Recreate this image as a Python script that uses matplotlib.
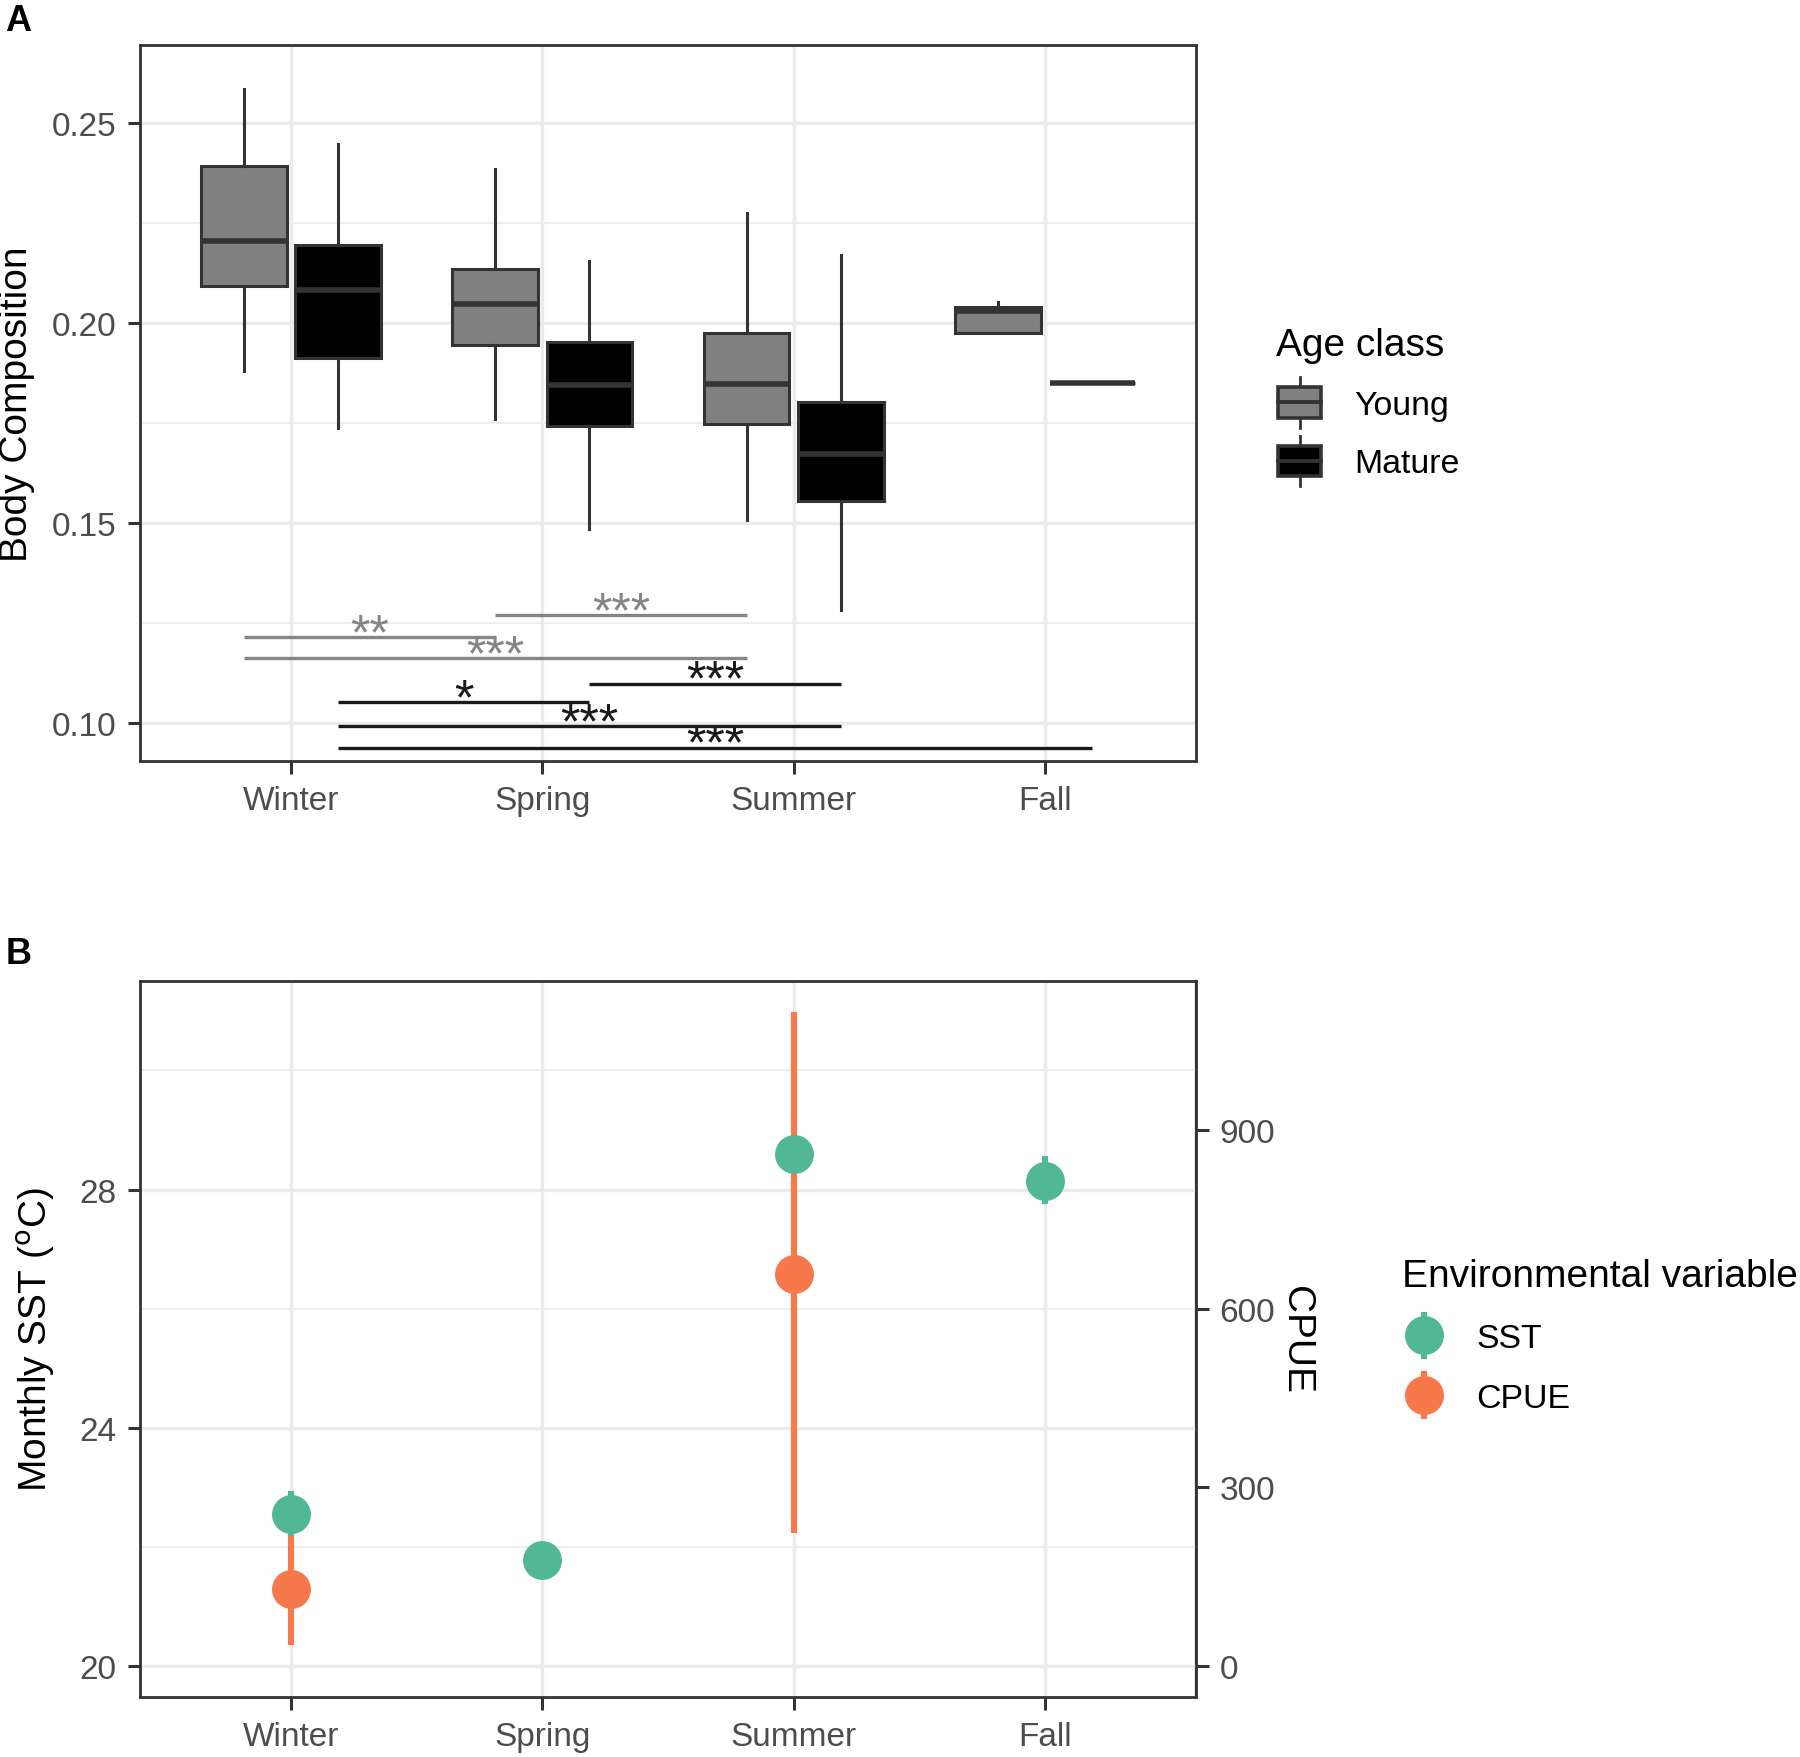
import matplotlib
matplotlib.use("Agg")
import numpy as np
import matplotlib.pyplot as plt
from matplotlib.patches import Rectangle, Patch
from matplotlib.lines import Line2D
from matplotlib.legend_handler import HandlerBase, HandlerErrorbar
from matplotlib.container import ErrorbarContainer
from matplotlib.ticker import MultipleLocator

plt.rcParams["font.family"] = ["Liberation Sans", "DejaVu Sans"]

# ---- panel A data: body composition boxplots ----
seasons = ["Winter", "Spring", "Summer", "Fall"]
age_classes = ["Young", "Mature"]

young_low = [0.1881, 0.1761, 0.1508, 0.1975]
young_q1 = [0.2093, 0.1944, 0.1749, 0.1975]
young_med = [0.2204, 0.2048, 0.1848, 0.2030]
young_q3 = [0.2393, 0.2136, 0.1975, 0.2039]
young_high = [0.2584, 0.2386, 0.2274, 0.2052]

mature_low = [0.1737, 0.1485, 0.1284, 0.1850]
mature_q1 = [0.1913, 0.1742, 0.1556, 0.1850]
mature_med = [0.2083, 0.1846, 0.1673, 0.1850]
mature_q3 = [0.2195, 0.1952, 0.1803, 0.1850]
mature_high = [0.2447, 0.2156, 0.2169, 0.1850]

# significance comparisons
sig_from = ["Winter", "Spring", "Winter", "Spring", "Winter", "Winter", "Winter"]
sig_to = ["Spring", "Summer", "Summer", "Summer", "Spring", "Summer", "Fall"]
sig_class = ["Young", "Young", "Young", "Mature", "Mature", "Mature", "Mature"]
sig_y = [0.1216, 0.1270, 0.1163, 0.1099, 0.1053, 0.0993, 0.0939]
sig_label = ["**", "***", "***", "***", "*", "***", "***"]

# ---- panel B data: environmental variables ----
sst_mean = [22.56, 21.78, 28.60, 28.15]
sst_lo = [22.18, 21.62, 28.35, 27.75]
sst_hi = [22.94, 21.94, 28.85, 28.56]

cpue_seasons = ["Winter", "Summer"]
cpue_mean = [130, 659]
cpue_lo = [36, 223]
cpue_hi = [220, 1098]

young_col = "#808080"
mature_col = "#000000"
edge_col = "#333333"
sst_col = "#52B794"
cpue_col = "#F7784B"
grid_col = "#EBEBEB"
tick_col = "#4D4D4D"

TICK_FS = 12
TITLE_FS = 14
LEG_TITLE_FS = 14
LEG_FS = 12.2


class BoxHandler(HandlerBase):
    def create_artists(self, legend, orig_handle, xdescent, ydescent,
                       width, height, fontsize, trans):
        face = orig_handle.get_facecolor()
        x0 = -xdescent + 0.05 * width
        bw = 0.9 * width
        y0 = -ydescent + 0.05 * height
        bh = 0.9 * height
        xc = x0 + bw / 2
        rect = Rectangle((x0, y0), bw, bh, facecolor=face, edgecolor=edge_col,
                         lw=1.3, transform=trans)
        med = Line2D([x0, x0 + bw], [y0 + bh / 2] * 2, color=edge_col, lw=1.4, transform=trans)
        w1 = Line2D([xc, xc], [y0 - 0.3 * height, y0], color=edge_col, lw=1.0, transform=trans)
        w2 = Line2D([xc, xc], [y0 + bh, y0 + bh + 0.3 * height], color=edge_col, lw=1.0, transform=trans)
        return [w1, w2, rect, med]


def style_axes(ax):
    for s in ax.spines.values():
        s.set_color(edge_col)
        s.set_linewidth(1.0)
    ax.tick_params(axis="both", which="major", length=4.5, width=1.1, color=edge_col,
                   labelsize=TICK_FS, labelcolor=tick_col, pad=4)
    ax.tick_params(axis="both", which="minor", length=0)
    ax.grid(True, which="major", color=grid_col, lw=1.2)
    ax.grid(True, which="minor", axis="y", color=grid_col, lw=0.6)
    ax.set_axisbelow(True)


fig = plt.figure(figsize=(9, 8.79), dpi=200)
x = np.arange(1, len(seasons) + 1)
dodge = 0.1875
box_w = 0.34

# ---- panel A ----
axA = fig.add_axes([0.0778, 0.5666, 0.5867, 0.4073])
style_axes(axA)

for cls, col, off, lows, q1s, meds, q3s, highs in [
        ("Young", young_col, -dodge, young_low, young_q1, young_med, young_q3, young_high),
        ("Mature", mature_col, dodge, mature_low, mature_q1, mature_med, mature_q3, mature_high)]:
    stats = []
    for i in range(len(seasons)):
        stats.append(dict(whislo=lows[i], q1=q1s[i], med=meds[i], q3=q3s[i], whishi=highs[i],
                          fliers=[]))
    axA.bxp(stats, positions=x + off, widths=box_w, patch_artist=True, showfliers=False,
            showcaps=False, manage_ticks=False,
            boxprops=dict(facecolor=col, edgecolor=edge_col, lw=1.1),
            medianprops=dict(color=edge_col, lw=2.0, solid_capstyle="butt"),
            whiskerprops=dict(color=edge_col, lw=1.1))

for a, b, cls, yv, lab in zip(sig_from, sig_to, sig_class, sig_y, sig_label):
    off = -dodge if cls == "Young" else dodge
    col = "#858585" if cls == "Young" else "#1A1A1A"
    xa = seasons.index(a) + 1 + off
    xb = seasons.index(b) + 1 + off
    axA.plot([xa, xb], [yv, yv], color=col, lw=1.2, solid_capstyle="butt")
    axA.annotate(lab, xy=((xa + xb) / 2, yv), xytext=(0, -4.0), textcoords="offset points",
                 color=col, fontsize=18, ha="center", va="baseline")

axA.set_xlim(0.4, 4.6)
axA.set_ylim(0.0906, 0.2695)
axA.set_xticks(x)
axA.set_xticklabels(seasons)
axA.yaxis.set_minor_locator(MultipleLocator(0.025))
axA.set_yticks([0.10, 0.15, 0.20, 0.25])
axA.set_yticklabels(["0.10", "0.15", "0.20", "0.25"])
axA.set_ylabel("Body Composition", fontsize=TITLE_FS, labelpad=6)

handlesA = [Patch(facecolor=young_col), Patch(facecolor=mature_col)]
legA = fig.legend(handlesA, age_classes, loc="upper left", bbox_to_anchor=(0.692, 0.831),
                  frameon=False, title="Age class", title_fontsize=LEG_TITLE_FS, fontsize=LEG_FS,
                  handler_map={Patch: BoxHandler()}, handlelength=1.4, handleheight=1.15,
                  labelspacing=0.68, handletextpad=0.9)
legA._legend_box.align = "left"

fig.text(0.003, 0.998, "A", fontsize=13, fontweight="bold", va="top", ha="left")

# ---- panel B ----
axB = fig.add_axes([0.0778, 0.0341, 0.5867, 0.4073])
style_axes(axB)


def cpue_to_sst(c):
    return np.asarray(c) / 100.0 + 20


def sst_to_cpue(s):
    return (np.asarray(s) - 20) * 100.0


xc = np.array([seasons.index(s) + 1 for s in cpue_seasons])
cm = cpue_to_sst(cpue_mean)
err_c = [cm - cpue_to_sst(cpue_lo), cpue_to_sst(cpue_hi) - cm]
hc = axB.errorbar(xc, cm, yerr=err_c, fmt="o", color=cpue_col, ms=13, elinewidth=2.2,
                  capsize=0, zorder=3)

sm = np.array(sst_mean)
err_s = [sm - np.array(sst_lo), np.array(sst_hi) - sm]
hs = axB.errorbar(x, sm, yerr=err_s, fmt="o", color=sst_col, ms=13, elinewidth=2.2,
                  capsize=0, zorder=4)

axB.set_xlim(0.4, 4.6)
axB.set_ylim(19.48, 31.50)
axB.set_xticks(x)
axB.set_xticklabels(seasons)
axB.set_yticks([20, 24, 28])
axB.yaxis.set_minor_locator(MultipleLocator(2))
axB.set_ylabel("Monthly SST ($^{\\mathrm{o}}$C)", fontsize=TITLE_FS, labelpad=8)

sec = axB.secondary_yaxis("right", functions=(sst_to_cpue, cpue_to_sst))
sec.set_yticks([0, 300, 600, 900])
sec.tick_params(length=4.5, width=1.1, color=edge_col, labelsize=TICK_FS, labelcolor=tick_col, pad=4)
sec.spines["right"].set_color(edge_col)
sec.set_ylabel("CPUE", fontsize=TITLE_FS, rotation=270, labelpad=1, va="bottom")

legB = fig.legend([hs, hc], ["SST", "CPUE"], loc="upper left", bbox_to_anchor=(0.762, 0.301),
                  frameon=False, title="Environmental variable", title_fontsize=LEG_TITLE_FS,
                  fontsize=LEG_FS, handlelength=1.3, labelspacing=0.85, handletextpad=0.9,
                  handler_map={ErrorbarContainer: HandlerErrorbar(yerr_size=0.7)})
legB._legend_box.align = "left"

fig.text(0.003, 0.467, "B", fontsize=13, fontweight="bold", va="top", ha="left")

fig.savefig("out.png", dpi=200)
